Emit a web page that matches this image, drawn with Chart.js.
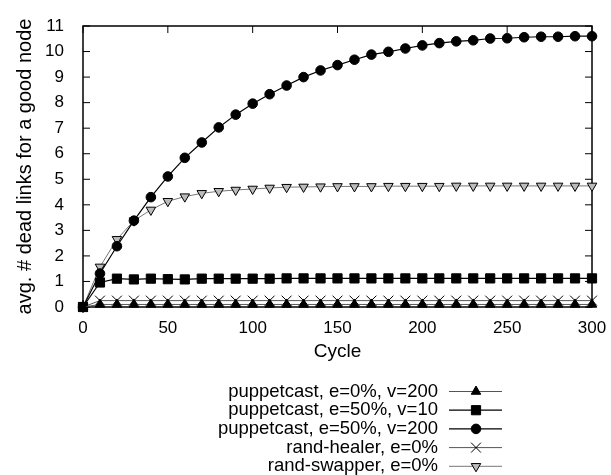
<!DOCTYPE html>
<html>
<head>
<meta charset="utf-8">
<script src="https://cdn.jsdelivr.net/npm/chart.js@4/dist/chart.umd.min.js"></script>
<style>
html,body{margin:0;padding:0;background:#fff}
#wrap{width:611px;height:475px}
</style>
</head>
<body>
<div id="wrap"><canvas id="chart" width="611" height="475"></canvas></div>
<script>
// cycles sampled every 10
const cycles = [0,10,20,30,40,50,60,70,80,90,100,110,120,130,140,150,160,170,180,190,200,210,220,230,240,250,260,270,280,290,300];

const pcE0V200   = [0,0.1,0.1,0.1,0.1,0.1,0.1,0.1,0.1,0.1,0.1,0.1,0.1,0.1,0.1,0.1,0.1,0.1,0.1,0.1,0.1,0.1,0.1,0.1,0.1,0.1,0.1,0.1,0.1,0.1,0.1];
const pcE50V10   = [0,0.96,1.11,1.08,1.11,1.09,1.08,1.11,1.11,1.11,1.11,1.11,1.12,1.12,1.12,1.12,1.12,1.12,1.12,1.12,1.12,1.12,1.12,1.12,1.12,1.12,1.12,1.12,1.12,1.12,1.12];
const pcE50V200  = [0,1.31,2.38,3.38,4.30,5.11,5.84,6.44,7.03,7.53,7.96,8.33,8.67,9.00,9.26,9.47,9.68,9.88,9.99,10.12,10.24,10.33,10.40,10.44,10.51,10.52,10.56,10.58,10.58,10.60,10.60];
const randHealer = [0,0.25,0.25,0.25,0.25,0.25,0.25,0.25,0.25,0.25,0.25,0.25,0.25,0.25,0.25,0.25,0.25,0.25,0.25,0.25,0.25,0.25,0.25,0.25,0.25,0.25,0.25,0.25,0.25,0.25,0.25];
const randSwapper= [0,1.57,2.65,3.38,3.80,4.14,4.32,4.45,4.53,4.58,4.62,4.66,4.69,4.70,4.71,4.72,4.72,4.72,4.73,4.73,4.73,4.73,4.74,4.74,4.74,4.74,4.74,4.74,4.74,4.74,4.74];

const seriesNames = ['puppetcast, e=0%, v=200','puppetcast, e=50%, v=10','puppetcast, e=50%, v=200','rand-healer, e=0%','rand-swapper, e=0%'];
const xTicks = [0,50,100,150,200,250,300];
const yTicks = [0,1,2,3,4,5,6,7,8,9,10,11];

const FONT = '"Liberation Sans", Arial, Helvetica, sans-serif';

function pts(vals){ return cycles.map((c,i)=>({x:c,y:vals[i]})); }

const styles = [
  {pointStyle:'triangle', pointRadius:5.5, pointBackgroundColor:'#000', pointBorderColor:'#000', borderColor:'#555', borderWidth:1},
  {pointStyle:'rect', pointRadius:6.5, pointBackgroundColor:'#000', pointBorderColor:'#000', borderColor:'#000', borderWidth:1.2},
  {pointStyle:'circle', pointRadius:4.8, pointBackgroundColor:'#000', pointBorderColor:'#000', borderColor:'#000', borderWidth:1.2},
  {pointStyle:'crossRot', pointRadius:7, pointBackgroundColor:'#000', pointBorderColor:'#000', borderColor:'#555', borderWidth:1},
  {pointStyle:'triangle', pointRotation:180, pointRadius:5.5, pointBackgroundColor:'#bbb', pointBorderColor:'#000', borderColor:'#777', borderWidth:1}
];
const allVals = [pcE0V200,pcE50V10,pcE50V200,randHealer,randSwapper];

const datasets = allVals.map((v,i)=>Object.assign({
  label:seriesNames[i], data:pts(v), tension:0, fill:false, clip:false,
  pointBorderWidth:1, pointHoverRadius:5
}, styles[i]));

// gnuplot-ish frame, inward ticks and right-aligned key
const frame = {
  id:'frame',
  beforeDatasetsDraw(chart){
    const {ctx, chartArea:a, scales:{x,y}} = chart;
    ctx.save();
    ctx.strokeStyle='#000';
    ctx.lineWidth=1;
    ctx.beginPath();
    yTicks.forEach(v=>{
      const py=y.getPixelForValue(v);
      ctx.moveTo(a.left,py); ctx.lineTo(a.left+7,py);
      ctx.moveTo(a.right,py); ctx.lineTo(a.right-7,py);
    });
    xTicks.forEach(v=>{
      const px=x.getPixelForValue(v);
      ctx.moveTo(px,a.top); ctx.lineTo(px,a.top+7);
      ctx.moveTo(px,a.bottom); ctx.lineTo(px,a.bottom-7);
    });
    ctx.stroke();
    ctx.lineWidth=1.5;
    ctx.strokeRect(a.left,a.top,a.right-a.left,a.bottom-a.top);
    ctx.restore();
  },
  afterDraw(chart){
    const ctx = chart.ctx;
    ctx.save();
    ctx.font = '18.5px '+FONT;
    ctx.textAlign='right';
    ctx.textBaseline='middle';
    chart.data.datasets.forEach((ds,i)=>{
      const yy = 391.5 + i*18.7;
      ctx.fillStyle='#000';
      ctx.fillText(ds.label, 438, yy);
      ctx.strokeStyle=ds.borderColor; ctx.lineWidth=ds.borderWidth;
      ctx.beginPath(); ctx.moveTo(449,yy); ctx.lineTo(502,yy); ctx.stroke();
      ctx.fillStyle=ds.pointBackgroundColor; ctx.strokeStyle=ds.pointBorderColor; ctx.lineWidth=1;
      Chart.helpers.drawPoint(ctx,{pointStyle:ds.pointStyle, radius:ds.pointRadius, rotation:ds.pointRotation||0, borderWidth:1},476,yy);
    });
    ctx.restore();
  }
};

new Chart(document.getElementById('chart'),{
  type:'line',
  data:{datasets},
  options:{
    responsive:false, animation:false,
    layout:{padding:{top:26,right:19,bottom:0,left:0}},
    plugins:{legend:{display:false},tooltip:{enabled:false}},
    scales:{
      x:{type:'linear', min:0, max:300,
        afterFit(s){ s.height=168; },
        afterBuildTicks(s){ s.ticks = xTicks.map(v=>({value:v})); },
        grid:{display:false}, border:{display:false},
        ticks:{color:'#000', font:{family:FONT,size:17}, padding:3, maxRotation:0},
        title:{display:true, text:'Cycle', color:'#000', font:{family:FONT,size:19}, padding:{top:0,bottom:112}}
      },
      y:{type:'linear', min:0, max:11,
        afterFit(s){ s.width=83; },
        afterBuildTicks(s){ s.ticks = yTicks.map(v=>({value:v})); },
        grid:{display:false}, border:{display:false},
        ticks:{color:'#000', font:{family:FONT,size:17}, padding:11},
        title:{display:true, text:'avg. # dead links for a good node', color:'#000', font:{family:FONT,size:20}, padding:{top:13,bottom:0}}
      }
    }
  },
  plugins:[frame]
});
</script>
</body>
</html>
